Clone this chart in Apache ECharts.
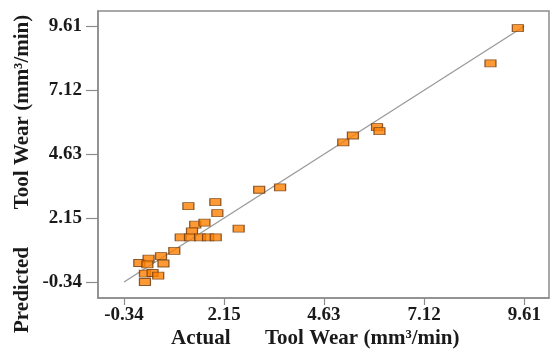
<!DOCTYPE html>
<html>
<head>
<meta charset="utf-8">
<script src="https://cdn.jsdelivr.net/npm/echarts@6/dist/echarts.min.js"></script>
<style>
  html, body { margin: 0; padding: 0; background: #fff; }
  #chart { width: 558px; height: 353px; }
</style>
</head>
<body>
<div id="chart"></div>
<script>
// Tick positions shared by both axes
const tickValues = [-0.34, 2.15, 4.63, 7.12, 9.61];

// Actual vs predicted tool wear (mm³/min)
const actual = [
  0.04, 0.27, 0.24, 0.58, 0.91, 0.64, 0.18, 0.37, 0.51, 0.18,
  1.26, 1.93, 1.98, 1.43, 1.66, 1.35, 2.51,
  1.07, 1.30, 1.55, 1.75, 1.94,
  3.02, 3.54, 5.11, 5.35, 5.95, 6.01, 9.45, 8.77
];
const predicted = [
  0.40, 0.57, 0.35, 0.67, 0.87, 0.38, -0.01, 0.01, -0.09, -0.34,
  2.61, 2.77, 2.34, 1.89, 1.97, 1.63, 1.74,
  1.40, 1.40, 1.40, 1.40, 1.40,
  3.25, 3.34, 5.09, 5.36, 5.69, 5.53, 9.54, 8.17
];

// Axis extents
const xRange = [-0.987, 10.225];
const yRange = [-0.962, 10.205];

const points = actual.map((a, i) => [a, predicted[i]]);
const first = tickValues[0], last = tickValues[tickValues.length - 1];

const serif = '"Liberation Serif", "DejaVu Serif", serif';
const axisGray = '#8c8c8c';

const chart = echarts.init(document.getElementById('chart'));
chart.setOption({
  backgroundColor: '#fff',
  animation: false,
  grid: {
    left: 98, right: 9, top: 11, bottom: 55,
    show: true, borderColor: axisGray, borderWidth: 1.5
  },
  xAxis: {
    type: 'value', min: xRange[0], max: xRange[1],
    splitLine: { show: false },
    axisLine: { show: true, onZero: false, lineStyle: { color: axisGray, width: 1.5 } },
    axisTick: { show: true, customValues: tickValues, length: 7, lineStyle: { color: axisGray, width: 1.2 } },
    axisLabel: {
      customValues: tickValues, margin: 8,
      formatter: v => v.toFixed(2),
      fontFamily: serif, fontWeight: 'bold', fontSize: 19, color: '#1a1a1a'
    }
  },
  yAxis: {
    type: 'value', min: yRange[0], max: yRange[1],
    splitLine: { show: false },
    axisLine: { show: true, onZero: false, lineStyle: { color: axisGray, width: 1.5 } },
    axisTick: { show: true, customValues: tickValues, length: 12, lineStyle: { color: axisGray, width: 1.2 } },
    axisLabel: {
      customValues: tickValues, margin: 16,
      formatter: v => v.toFixed(2),
      fontFamily: serif, fontWeight: 'bold', fontSize: 19, color: '#1a1a1a'
    }
  },
  series: [
    {
      type: 'line',
      data: [[first, first], [last, last]],
      symbol: 'none',
      lineStyle: { color: '#9a9a9a', width: 1.3 },
      z: 2
    },
    {
      type: 'scatter',
      data: points,
      symbol: 'rect',
      symbolSize: [11, 7],
      itemStyle: { color: '#ff7f00', borderColor: '#6a3a10', borderWidth: 1 },
      z: 3
    }
  ],
  graphic: [
    {
      type: 'text', left: 171, top: 328,
      style: { text: 'Actual', font: 'bold 21px ' + serif, fill: '#1a1a1a' }
    },
    {
      type: 'text', left: 265, top: 328,
      style: { text: 'Tool Wear (mm³/min)', font: 'bold 21px ' + serif, fill: '#1a1a1a' }
    },
    {
      type: 'text', x: 23, y: 290, rotation: Math.PI / 2,
      style: { text: 'Predicted', font: 'bold 21px ' + serif, fill: '#1a1a1a', align: 'center', verticalAlign: 'middle' }
    },
    {
      type: 'text', x: 23, y: 112, rotation: Math.PI / 2,
      style: { text: 'Tool Wear (mm³/min)', font: 'bold 21px ' + serif, fill: '#1a1a1a', align: 'center', verticalAlign: 'middle' }
    }
  ]
});
</script>
</body>
</html>
